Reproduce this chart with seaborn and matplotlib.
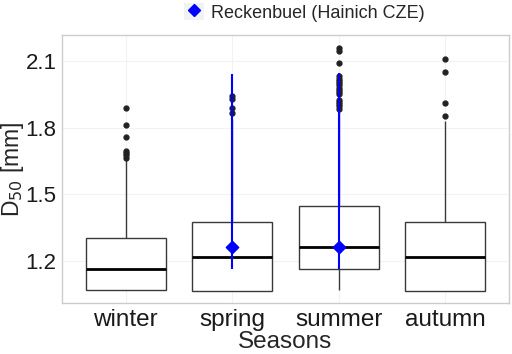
import pandas as pd
import seaborn as sns
import matplotlib
matplotlib.use("Agg")
import matplotlib.pyplot as plt
from matplotlib.lines import Line2D
from matplotlib.patches import Patch

# values (D50 in mm)
seasons = ["winter", "spring", "summer", "autumn"]
box_low = [1.069, 1.065, 1.069, 1.065]      # lower whisker end
box_q1 = [1.069, 1.065, 1.164, 1.065]
box_med = [1.164, 1.218, 1.263, 1.218]
box_q3 = [1.304, 1.376, 1.448, 1.376]
box_upper = [
    [1.641, 1.655, 1.665, 1.675, 1.685, 1.695, 1.759, 1.813, 1.889],
    [1.84, 1.867, 1.89, 1.93, 1.94],
    [1.87, 1.885, 1.895, 1.905, 1.915, 1.925, 1.95, 1.96, 1.97, 1.98, 1.99, 2.0, 2.01, 2.02, 2.03, 2.09, 2.145, 2.157],
    [1.83, 1.853, 1.91, 2.05, 2.107],
]

# Reckenbuel (Hainich CZE) site values
site_seasons = ["spring", "summer"]
site_d50 = [1.263, 1.263]
site_min = [1.164, 1.164]
site_max = [2.042, 2.046]


def season_sample(low, q1, med, q3, upper):
    # sample whose quartiles / whisker / outliers give the box drawn in the picture
    k = len(upper)
    vals = [low] + [q1] * k + [med] * k + [q3] * k + upper
    return vals


rows = []
for i, s in enumerate(seasons):
    for v in season_sample(box_low[i], box_q1[i], box_med[i], box_q3[i], box_upper[i]):
        rows.append([s, v])
df = pd.DataFrame(rows, columns=["season", "d50"])

sns.set_style("white")
plt.rcParams['font.family'] = ['Liberation Sans', 'DejaVu Sans']

fig = plt.figure(figsize=(5.12, 3.54), dpi=100)
ax = fig.add_axes([0.121, 0.144, 0.873, 0.757])

sns.boxplot(
    data=df, x="season", y="d50", order=seasons, ax=ax,
    color="white", width=0.75, linewidth=1.0, linecolor="#3a3a3a",
    showcaps=False,
    medianprops=dict(color="black", linewidth=2.0),
    flierprops=dict(marker="o", markerfacecolor="#222222", markeredgecolor="#222222",
                    markersize=3.5),
    zorder=2,
)
for p in ax.patches:
    p.set_facecolor("white")

xpos = [seasons.index(s) for s in site_seasons]
ax.vlines(xpos, site_min, site_max, color="#0000FF", linewidth=1.5, zorder=5)
ax.scatter(xpos, site_d50, marker="D", s=40, color="#0000FF", zorder=6)

ax.set_xlim(-0.6, 3.6)
ax.set_ylim(1.011, 2.216)
ax.set_yticks([1.2, 1.5, 1.8, 2.1])
ax.set_yticklabels(["1.2", "1.5", "1.8", "2.1"])
ax.grid(True, color="#F2F2F2", linewidth=0.8, zorder=0)
ax.set_axisbelow(True)
for sp in ax.spines.values():
    sp.set_color("#CCCCCC")
    sp.set_linewidth(1.0)
ax.tick_params(axis="both", length=2, color="#CCCCCC", labelcolor="#1a1a1a", pad=2)
ax.tick_params(axis="y", labelsize=16)
ax.tick_params(axis="x", labelsize=17.5, pad=2)
ax.set_xlabel("Seasons", fontsize=17.5, labelpad=0)
ax.set_ylabel("D$_{50}$ [mm]", fontsize=16.5, labelpad=0)
ax.yaxis.set_label_coords(-0.08, 0.5)

key_bg = Patch(facecolor="#F2F2F2", edgecolor="none")
key_pt = Line2D([], [], marker="D", color="#0000FF", linestyle="none", markersize=6)
leg = fig.legend([(key_bg, key_pt)], ["Reckenbuel (Hainich CZE)"], loc="center",
                 bbox_to_anchor=(0.595, 0.965), frameon=False, fontsize=13,
                 handlelength=1.1, handleheight=1.1, handletextpad=0.4)

fig.savefig("out.png", dpi=100)
